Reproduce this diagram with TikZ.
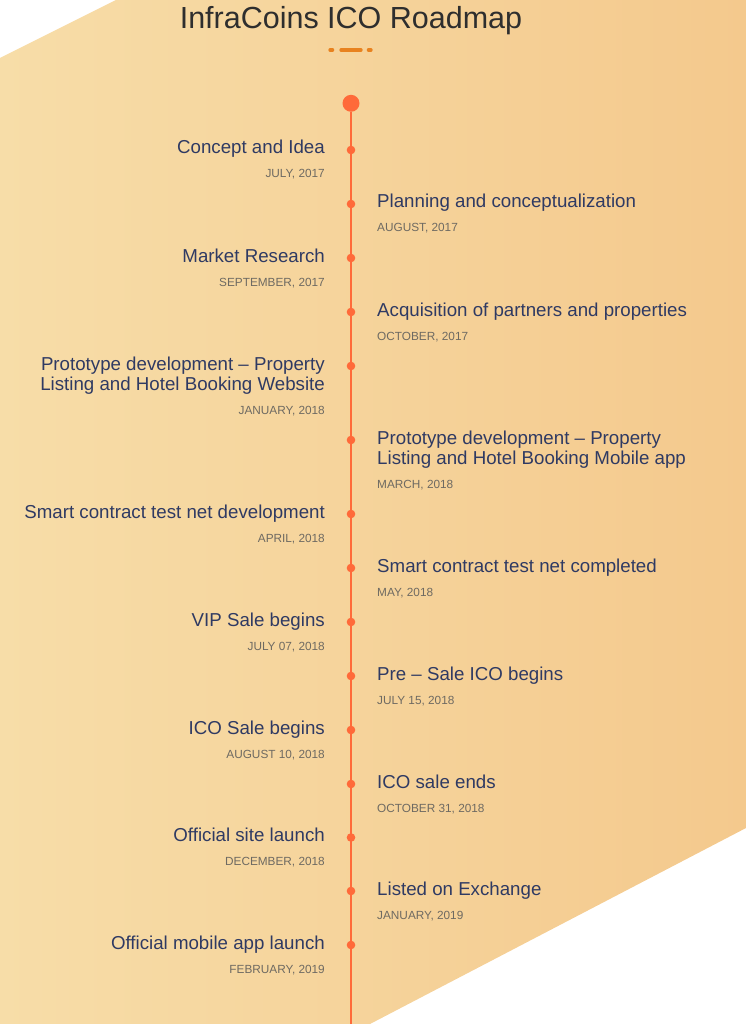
\documentclass[tikz,border=0pt]{standalone}
\usepackage{fontspec}
\setmainfont{Liberation Sans}
\definecolor{bgL}{HTML}{F7DDA8}
\definecolor{bgR}{HTML}{F4C98D}
\definecolor{navy}{HTML}{2F3A63}
\definecolor{titlecol}{HTML}{2E2E2E}
\definecolor{dategray}{HTML}{6E6A62}
\definecolor{tline}{HTML}{FF6A3A}
\definecolor{dashcol}{HTML}{E8821F}
\tikzset{
  ttl/.style={inner sep=0pt, text=navy, font=\fontsize{18.7}{20.5}\selectfont},
  dt/.style={inner sep=0pt, text=dategray, font=\fontsize{11.8}{14}\selectfont},
  tdot/.style={circle, fill=tline, inner sep=0pt, minimum size=8.6pt},
  bigdot/.style={circle, fill=tline, inner sep=0pt, minimum size=17pt},
  dashseg/.style={draw=dashcol, line width=4pt, line cap=round},
}
\begin{document}
\begin{tikzpicture}[x=1pt,y=-1pt]
\useasboundingbox (0,0) rectangle (746,1024);
\shade[left color=bgL,right color=bgR] (116,0) -- (746,0) -- (746,828) -- (370,1024) -- (0,1024) -- (0,58) -- cycle;

% title
\node[anchor=base, inner sep=0pt, text=titlecol, font=\fontsize{30.5}{36}\selectfont] (title) at (351,29) {InfraCoins ICO Roadmap};
\coordinate (d1a) at (330.3,50); \coordinate (d1b) at (332.3,50);
\coordinate (d2a) at (341.3,50); \coordinate (d2b) at (360.7,50);
\coordinate (d3a) at (368.7,50); \coordinate (d3b) at (370.7,50);
\draw[dashseg] (d1a) -- (d1b);
\draw[dashseg] (d2a) -- (d2b);
\draw[dashseg] (d3a) -- (d3b);

% timeline
\node[bigdot] (start) at (351,103.3) {};
\coordinate (end) at (351,1024);
\draw[tline, line width=2pt] (start) -- (end);

% dots
\foreach \n/\y in {1/150,2/204,3/258,4/312,5/366,6/440,7/514,8/568,9/622,10/676,11/730,12/784,13/837.5,14/891,15/945}{
  \node[tdot] (p\n) at (351,\y) {};
}

% left items
\node[ttl, anchor=base east] (t1) at (325,154) {Concept and Idea};
\node[dt, anchor=base east] (s1) at (325,178) {JULY, 2017};
\node[ttl, anchor=base east] (t3) at (325,262) {Market Research};
\node[dt, anchor=base east] (s3) at (325,286) {SEPTEMBER, 2017};
\node[ttl, anchor=base east] (t5) at (325,370) {Prototype development – Property};
\node[ttl, anchor=base east] (t5b) at (325,390) {Listing and Hotel Booking Website};
\node[dt, anchor=base east] (s5) at (325,414) {JANUARY, 2018};
\node[ttl, anchor=base east] (t7) at (325,518) {Smart contract test net development};
\node[dt, anchor=base east] (s7) at (325,542) {APRIL, 2018};
\node[ttl, anchor=base east] (t9) at (325,626) {VIP Sale begins};
\node[dt, anchor=base east] (s9) at (325,650) {JULY 07, 2018};
\node[ttl, anchor=base east] (t11) at (325,734) {ICO Sale begins};
\node[dt, anchor=base east] (s11) at (325,758) {AUGUST 10, 2018};
\node[ttl, anchor=base east] (t13) at (325,841.5) {Official site launch};
\node[dt, anchor=base east] (s13) at (325,865.5) {DECEMBER, 2018};
\node[ttl, anchor=base east] (t15) at (325,949) {Official mobile app launch};
\node[dt, anchor=base east] (s15) at (325,973) {FEBRUARY, 2019};

% right items
\node[ttl, anchor=base west] (t2) at (377,208) {Planning and conceptualization};
\node[dt, anchor=base west] (s2) at (377,232) {AUGUST, 2017};
\node[ttl, anchor=base west] (t4) at (377,316) {Acquisition of partners and properties};
\node[dt, anchor=base west] (s4) at (377,340) {OCTOBER, 2017};
\node[ttl, anchor=base west] (t6) at (377,444) {Prototype development – Property};
\node[ttl, anchor=base west] (t6b) at (377,464) {Listing and Hotel Booking Mobile app};
\node[dt, anchor=base west] (s6) at (377,488) {MARCH, 2018};
\node[ttl, anchor=base west] (t8) at (377,572) {Smart contract test net completed};
\node[dt, anchor=base west] (s8) at (377,596) {MAY, 2018};
\node[ttl, anchor=base west] (t10) at (377,680) {Pre – Sale ICO begins};
\node[dt, anchor=base west] (s10) at (377,704) {JULY 15, 2018};
\node[ttl, anchor=base west] (t12) at (377,788) {ICO sale ends};
\node[dt, anchor=base west] (s12) at (377,812) {OCTOBER 31, 2018};
\node[ttl, anchor=base west] (t14) at (377,895) {Listed on Exchange};
\node[dt, anchor=base west] (s14) at (377,919) {JANUARY, 2019};
\end{tikzpicture}
\end{document}
